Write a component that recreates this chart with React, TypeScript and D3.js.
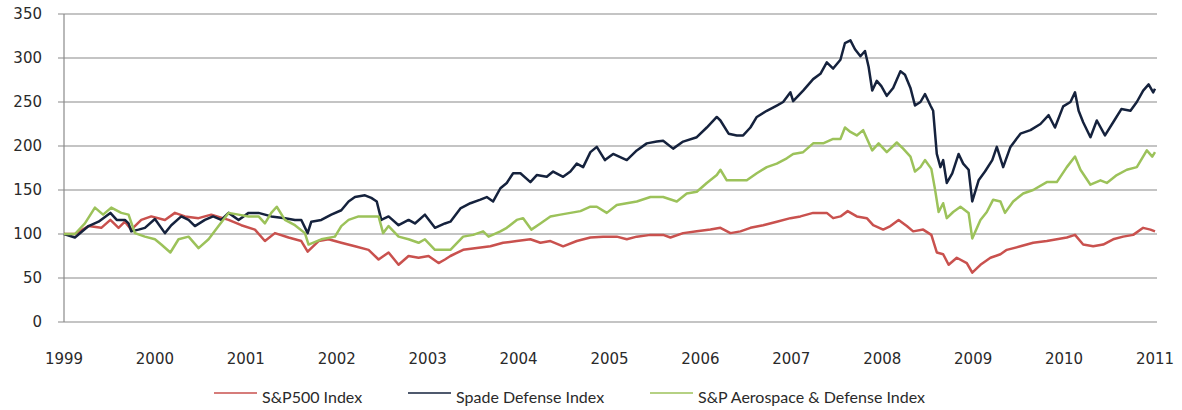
import React from "react";
import * as d3 from "d3";

// [decimal year, index value]
const sp500: [number, number][] = [
  [1999.0, 100], [1999.12, 100], [1999.27, 109], [1999.41, 107], [1999.51, 116], [1999.6, 107],
  [1999.67, 114], [1999.74, 105], [1999.85, 116], [1999.96, 120], [2000.11, 116], [2000.22, 124],
  [2000.33, 120], [2000.48, 118], [2000.62, 122], [2000.81, 116], [2000.95, 110], [2001.1, 105],
  [2001.21, 92], [2001.32, 101], [2001.47, 96], [2001.61, 92], [2001.68, 80], [2001.8, 92],
  [2001.91, 94], [2002.05, 90], [2002.2, 86], [2002.35, 82], [2002.46, 71], [2002.57, 79],
  [2002.68, 65], [2002.79, 75], [2002.9, 73], [2003.01, 75], [2003.12, 67], [2003.19, 71],
  [2003.25, 75], [2003.39, 82], [2003.54, 84], [2003.69, 86], [2003.83, 90], [2003.98, 92],
  [2004.13, 94], [2004.24, 90], [2004.35, 92], [2004.49, 86], [2004.64, 92], [2004.79, 96],
  [2004.93, 97], [2005.08, 97], [2005.19, 94], [2005.3, 97], [2005.45, 99], [2005.59, 99],
  [2005.67, 96], [2005.81, 101], [2005.96, 103], [2006.11, 105], [2006.22, 107], [2006.33, 101],
  [2006.44, 103], [2006.55, 107], [2006.69, 110], [2006.84, 114], [2006.99, 118], [2007.1, 120],
  [2007.24, 124], [2007.39, 124], [2007.46, 118], [2007.54, 120], [2007.62, 126], [2007.72, 120],
  [2007.83, 118], [2007.9, 110], [2008.01, 105], [2008.09, 109], [2008.18, 116], [2008.27, 109],
  [2008.34, 103], [2008.45, 105], [2008.54, 99], [2008.6, 79], [2008.67, 77], [2008.73, 65],
  [2008.82, 73], [2008.93, 67], [2008.99, 56], [2009.08, 65], [2009.19, 73], [2009.3, 77],
  [2009.37, 82], [2009.52, 86], [2009.66, 90], [2009.81, 92], [2009.92, 94], [2010.03, 96],
  [2010.12, 99], [2010.21, 88], [2010.32, 86], [2010.43, 88], [2010.54, 94], [2010.65, 97],
  [2010.76, 99], [2010.87, 107], [2010.95, 105], [2011.0, 103],
];

const spadeDefense: [number, number][] = [
  [1999.0, 100], [1999.12, 96], [1999.27, 109], [1999.38, 114], [1999.51, 124], [1999.58, 116],
  [1999.67, 116], [1999.71, 112], [1999.74, 103], [1999.82, 105], [1999.89, 107], [2000.0, 117],
  [2000.11, 101], [2000.18, 110], [2000.29, 120], [2000.37, 116], [2000.44, 109], [2000.55, 116],
  [2000.64, 120], [2000.73, 116], [2000.81, 124], [2000.92, 116], [2001.03, 124], [2001.14, 124],
  [2001.28, 120], [2001.43, 118], [2001.54, 116], [2001.61, 116], [2001.68, 101], [2001.72, 114],
  [2001.83, 116], [2001.94, 122], [2002.05, 127], [2002.13, 137], [2002.2, 142], [2002.31, 144],
  [2002.38, 141], [2002.44, 137], [2002.49, 116], [2002.57, 120], [2002.68, 110], [2002.79, 116],
  [2002.86, 112], [2002.97, 122], [2003.08, 107], [2003.19, 112], [2003.25, 114], [2003.36, 129],
  [2003.47, 135], [2003.58, 139], [2003.65, 142], [2003.72, 137], [2003.8, 152], [2003.87, 158],
  [2003.94, 169], [2004.02, 169], [2004.13, 159], [2004.2, 167], [2004.31, 165], [2004.38, 171],
  [2004.49, 165], [2004.57, 171], [2004.64, 180], [2004.71, 176], [2004.79, 193], [2004.86, 199],
  [2004.95, 184], [2005.04, 191], [2005.19, 184], [2005.3, 195], [2005.41, 203], [2005.52, 205],
  [2005.59, 206], [2005.7, 197], [2005.81, 205], [2005.96, 210], [2006.07, 221], [2006.18, 233],
  [2006.22, 229], [2006.31, 214], [2006.4, 212], [2006.47, 212], [2006.55, 221], [2006.62, 233],
  [2006.73, 240], [2006.84, 246], [2006.91, 250], [2006.99, 261], [2007.02, 251], [2007.13, 263],
  [2007.24, 276], [2007.32, 282], [2007.39, 295], [2007.46, 288], [2007.54, 298], [2007.59, 317],
  [2007.65, 320], [2007.7, 310], [2007.76, 302], [2007.81, 308], [2007.85, 290], [2007.89, 263],
  [2007.94, 274], [2007.99, 268], [2008.05, 257], [2008.12, 266], [2008.2, 285], [2008.25, 281],
  [2008.31, 266], [2008.36, 246], [2008.42, 250], [2008.47, 259], [2008.53, 246], [2008.56, 240],
  [2008.6, 191], [2008.64, 176], [2008.67, 184], [2008.71, 158], [2008.77, 169], [2008.84, 191],
  [2008.89, 180], [2008.95, 173], [2008.99, 137], [2009.06, 161], [2009.13, 171], [2009.21, 184],
  [2009.26, 199], [2009.33, 176], [2009.41, 199], [2009.52, 214], [2009.63, 218], [2009.74, 225],
  [2009.83, 235], [2009.9, 221], [2009.99, 245], [2010.07, 250], [2010.12, 261], [2010.16, 240],
  [2010.21, 227], [2010.29, 210], [2010.36, 229], [2010.45, 212], [2010.54, 227], [2010.63, 242],
  [2010.73, 240], [2010.8, 250], [2010.87, 263], [2010.93, 270], [2010.98, 261], [2011.0, 265],
];

const aerospaceDefense: [number, number][] = [
  [1999.0, 100], [1999.12, 100], [1999.23, 112], [1999.34, 130], [1999.43, 122], [1999.52, 130],
  [1999.63, 124], [1999.71, 122], [1999.78, 101], [1999.89, 97], [2000.0, 94], [2000.07, 88],
  [2000.17, 79], [2000.26, 94], [2000.37, 97], [2000.48, 84], [2000.59, 94], [2000.7, 109],
  [2000.81, 124], [2000.92, 122], [2001.03, 120], [2001.14, 120], [2001.21, 112], [2001.28, 124],
  [2001.34, 131], [2001.43, 116], [2001.54, 110], [2001.65, 101], [2001.69, 88], [2001.83, 94],
  [2001.98, 97], [2002.05, 109], [2002.13, 116], [2002.24, 120], [2002.35, 120], [2002.46, 120],
  [2002.51, 101], [2002.57, 109], [2002.68, 97], [2002.79, 94], [2002.9, 90], [2002.97, 94],
  [2003.08, 82], [2003.19, 82], [2003.25, 82], [2003.39, 97], [2003.5, 99], [2003.61, 103],
  [2003.67, 97], [2003.8, 103], [2003.87, 107], [2003.98, 116], [2004.05, 118], [2004.14, 105],
  [2004.24, 112], [2004.35, 120], [2004.46, 122], [2004.57, 124], [2004.68, 126], [2004.79, 131],
  [2004.86, 131], [2004.97, 124], [2005.08, 133], [2005.19, 135], [2005.3, 137], [2005.45, 142],
  [2005.59, 142], [2005.74, 137], [2005.85, 146], [2005.96, 148], [2006.07, 158], [2006.18, 167],
  [2006.22, 173], [2006.29, 161], [2006.4, 161], [2006.51, 161], [2006.62, 169], [2006.73, 176],
  [2006.84, 180], [2006.95, 186], [2007.02, 191], [2007.13, 193], [2007.24, 203], [2007.35, 203],
  [2007.46, 208], [2007.54, 208], [2007.59, 221], [2007.65, 216], [2007.72, 212], [2007.79, 218],
  [2007.89, 195], [2007.96, 203], [2008.05, 193], [2008.16, 204], [2008.23, 197], [2008.31, 188],
  [2008.36, 171], [2008.42, 176], [2008.47, 184], [2008.54, 174], [2008.58, 151], [2008.62, 125],
  [2008.67, 135], [2008.71, 118], [2008.78, 125], [2008.86, 131], [2008.95, 124], [2008.99, 95],
  [2009.08, 116], [2009.15, 125], [2009.22, 139], [2009.3, 137], [2009.35, 124], [2009.44, 137],
  [2009.55, 146], [2009.66, 150], [2009.81, 159], [2009.92, 159], [2010.03, 176], [2010.12, 188],
  [2010.18, 173], [2010.29, 156], [2010.4, 161], [2010.47, 158], [2010.58, 167], [2010.69, 173],
  [2010.8, 176], [2010.91, 195], [2010.97, 188], [2011.0, 193],
];

const yTicks = [0, 50, 100, 150, 200, 250, 300, 350];
const xTicks = [1999, 2000, 2001, 2002, 2003, 2004, 2005, 2006, 2007, 2008, 2009, 2010, 2011];
const seriesNames = ["S&P500 Index", "Spade Defense Index", "S&P Aerospace & Defense Index"];
const seriesColors = ["#c9514e", "#15223d", "#9cc25a"];

export default function App() {
  const W = 1182, H = 410;
  const x = d3.scaleLinear().domain([1999, 2011]).range([64, 1155]);
  const y = d3.scaleLinear().domain([0, 350]).range([322, 14]);
  const line = d3.line<[number, number]>().x((d) => x(d[0])).y((d) => y(d[1]));
  const data = [sp500, spadeDefense, aerospaceDefense];
  const legendX = [214, 408, 650];

  return (
    <svg width={W} height={H} style={{ position: "absolute", left: 0, top: 0, background: "#fff" }}>
      {yTicks.map((t) => (
        <g key={t}>
          <line x1={58} x2={1157} y1={y(t)} y2={y(t)} stroke="#8a8a8a" strokeWidth={1.2} />
          <text x={42} y={y(t)} dy="0.36em" textAnchor="end" fontFamily="DejaVu Sans" fontSize={15} fill="#2a2a2a">
            {t}
          </text>
        </g>
      ))}
      <line x1={64} x2={64} y1={y(350)} y2={y(0)} stroke="#8a8a8a" strokeWidth={1.2} />
      {xTicks.map((t) => (
        <text key={t} x={x(t)} y={364} textAnchor="middle" fontFamily="DejaVu Sans" fontSize={15} fill="#2a2a2a">
          {t}
        </text>
      ))}
      {data.map((d, i) => (
        <path key={i} d={line(d) || ""} fill="none" stroke={seriesColors[i]} strokeWidth={2.5} strokeLinejoin="round" />
      ))}
      {seriesNames.map((n, i) => (
        <g key={n}>
          <line x1={legendX[i]} x2={legendX[i] + 43} y1={393} y2={393} stroke={seriesColors[i]} strokeWidth={1.5} />
          <text x={legendX[i] + 48} y={403} fontFamily="Lato" fontSize={16} fill="#2a2a2a">
            {n}
          </text>
        </g>
      ))}
    </svg>
  );
}
